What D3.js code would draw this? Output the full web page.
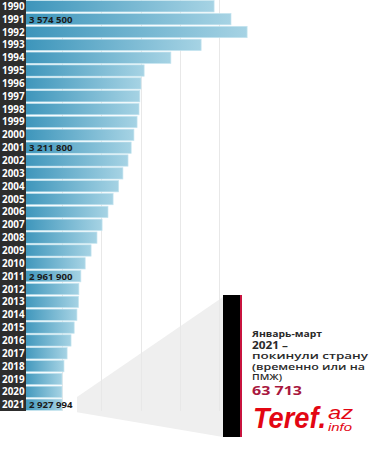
<!DOCTYPE html>
<html>
<head>
<meta charset="utf-8">
<script src="https://cdn.jsdelivr.net/npm/d3@7"></script>
<style>
  body { margin: 0; background: #fff; }
  svg { display: block; }
</style>
</head>
<body>
<svg width="371" height="450"></svg>
<script>
// **** data ****
var years = [1990, 1991, 1992, 1993, 1994, 1995, 1996, 1997, 1998, 1999,
             2000, 2001, 2002, 2003, 2004, 2005, 2006, 2007, 2008, 2009,
             2010, 2011, 2012, 2013, 2014, 2015, 2016, 2017, 2018, 2019,
             2020, 2021];
var barValues = [487, 530, 571, 454, 377, 309, 301, 298, 296, 291,
                 283, 276, 268, 255, 244, 230, 217, 202, 189, 174,
                 159, 148, 143, 142, 138, 131, 123, 113, 105, 100,
                 100, 100];
var labelYears = [1991, 2001, 2011, 2021];
var labelTexts = ['3 574 500', '3 211 800', '2 961 900', '2 927 994'];
var gridTicks = [100, 200, 300, 400, 500];
var calloutLines = ['Январь-март', '2021 –', 'покинули страну', '(временно или на', 'ПМЖ)'];
var calloutNumber = '63 713';

var svg = d3.select('svg');

// **** scales ****
var x = d3.scaleLinear().domain([0, 600]).range([22.7, 258.5]);
var y = d3.scaleBand().domain(years).range([0, 411]).paddingInner(0.12).paddingOuter(0.05);

// gradient for bars
var defs = svg.append('defs');
var grad = defs.append('linearGradient')
    .attr('id', 'barGrad')
    .attr('x1', '0%').attr('x2', '100%').attr('y1', '0%').attr('y2', '0%');
grad.append('stop').attr('offset', '0%').attr('stop-color', '#3b94ba');
grad.append('stop').attr('offset', '100%').attr('stop-color', '#a6d3e4');

// zoom polygon from last row to the callout
var lastY = y(2021);
svg.append('polygon')
    .attr('points', [
        [77, lastY - 2], [223, 297], [223, 437], [77, lastY + y.bandwidth() + 2]
    ].map(function (p) { return p.join(','); }).join(' '))
    .style('fill', '#efefef');

// grid lines
svg.append('g').selectAll('line')
    .data(gridTicks)
    .enter()
    .append('line')
    .attr('x1', function (d) { return Math.round(x(d)) + 0.5; })
    .attr('x2', function (d) { return Math.round(x(d)) + 0.5; })
    .attr('y1', 0)
    .attr('y2', 411)
    .style('stroke', '#e8e8e8')
    .style('stroke-width', 1);

// bars
svg.append('g').selectAll('rect')
    .data(years)
    .enter()
    .append('rect')
    .attr('x', x(0))
    .attr('y', function (d) { return y(d); })
    .attr('width', function (d, i) { return x(barValues[i]) - x(0); })
    .attr('height', y.bandwidth())
    .style('fill', 'url(#barGrad)')
    .style('stroke', '#c4e4ef')
    .style('stroke-width', 0.7);

// year column
svg.append('rect')
    .attr('x', 0).attr('y', 0)
    .attr('width', 26).attr('height', 411)
    .style('fill', '#2d2d2d');

svg.append('g').selectAll('text')
    .data(years)
    .enter()
    .append('text')
    .attr('x', 24.5)
    .attr('y', function (d) { return y(d) + y.bandwidth() / 2; })
    .attr('dy', '0.36em')
    .attr('text-anchor', 'end')
    .text(function (d) { return d; })
    .style('fill', '#ffffff')
    .style('font-family', 'Open Sans')
    .style('font-weight', 700)
    .style('font-size', '9.8px');

// value labels
svg.append('g').selectAll('text')
    .data(labelYears)
    .enter()
    .append('text')
    .attr('x', 29)
    .attr('y', function (d) { return y(d) + y.bandwidth() / 2; })
    .attr('dy', '0.36em')
    .text(function (d, i) { return labelTexts[i]; })
    .style('fill', '#1a1a1a')
    .style('font-family', 'Open Sans')
    .style('font-weight', 700)
    .style('font-size', '9.6px');

// callout bar
svg.append('rect')
    .attr('x', 223).attr('y', 295)
    .attr('width', 17).attr('height', 142)
    .style('fill', '#000');
svg.append('rect')
    .attr('x', 240).attr('y', 295)
    .attr('width', 2).attr('height', 142)
    .style('fill', '#c8143f');

// callout text
var lineY = [337, 349, 359, 369.5, 380];
var lineSize = [8.8, 10.5, 8.6, 8.6, 8.6];
var lineWeight = [700, 700, 600, 600, 600];
var lineWidth = [70, 36, 116, 113, 30];
svg.append('g').selectAll('text')
    .data(calloutLines)
    .enter()
    .append('text')
    .attr('x', 252)
    .attr('y', function (d, i) { return lineY[i]; })
    .attr('textLength', function (d, i) { return lineWidth[i]; })
    .attr('lengthAdjust', 'spacingAndGlyphs')
    .text(function (d) { return d; })
    .style('fill', '#2a2a2a')
    .style('font-family', 'Open Sans')
    .style('font-weight', function (d, i) { return lineWeight[i]; })
    .style('font-size', function (d, i) { return lineSize[i] + 'px'; });

svg.append('text')
    .attr('x', 252)
    .attr('y', 395)
    .attr('textLength', 50)
    .attr('lengthAdjust', 'spacingAndGlyphs')
    .text(calloutNumber)
    .style('fill', '#a8173e')
    .style('font-family', 'Open Sans')
    .style('font-weight', 700)
    .style('font-size', '12px');

// logo
svg.append('text')
    .attr('x', 253)
    .attr('y', 428)
    .attr('textLength', 73)
    .attr('lengthAdjust', 'spacingAndGlyphs')
    .text('Teref.')
    .style('fill', '#e30613')
    .style('font-family', 'Liberation Sans')
    .style('font-style', 'italic')
    .style('font-weight', 700)
    .style('font-size', '30px');

svg.append('text')
    .attr('x', 328)
    .attr('y', 419)
    .attr('textLength', 25)
    .attr('lengthAdjust', 'spacingAndGlyphs')
    .text('az')
    .style('fill', '#e30613')
    .style('font-family', 'Liberation Sans')
    .style('font-style', 'italic')
    .style('font-size', '19px');

svg.append('text')
    .attr('x', 328)
    .attr('y', 431)
    .attr('textLength', 24)
    .attr('lengthAdjust', 'spacingAndGlyphs')
    .text('info')
    .style('fill', '#e30613')
    .style('font-family', 'Liberation Sans')
    .style('font-style', 'italic')
    .style('font-size', '11px');
</script>
</body>
</html>
